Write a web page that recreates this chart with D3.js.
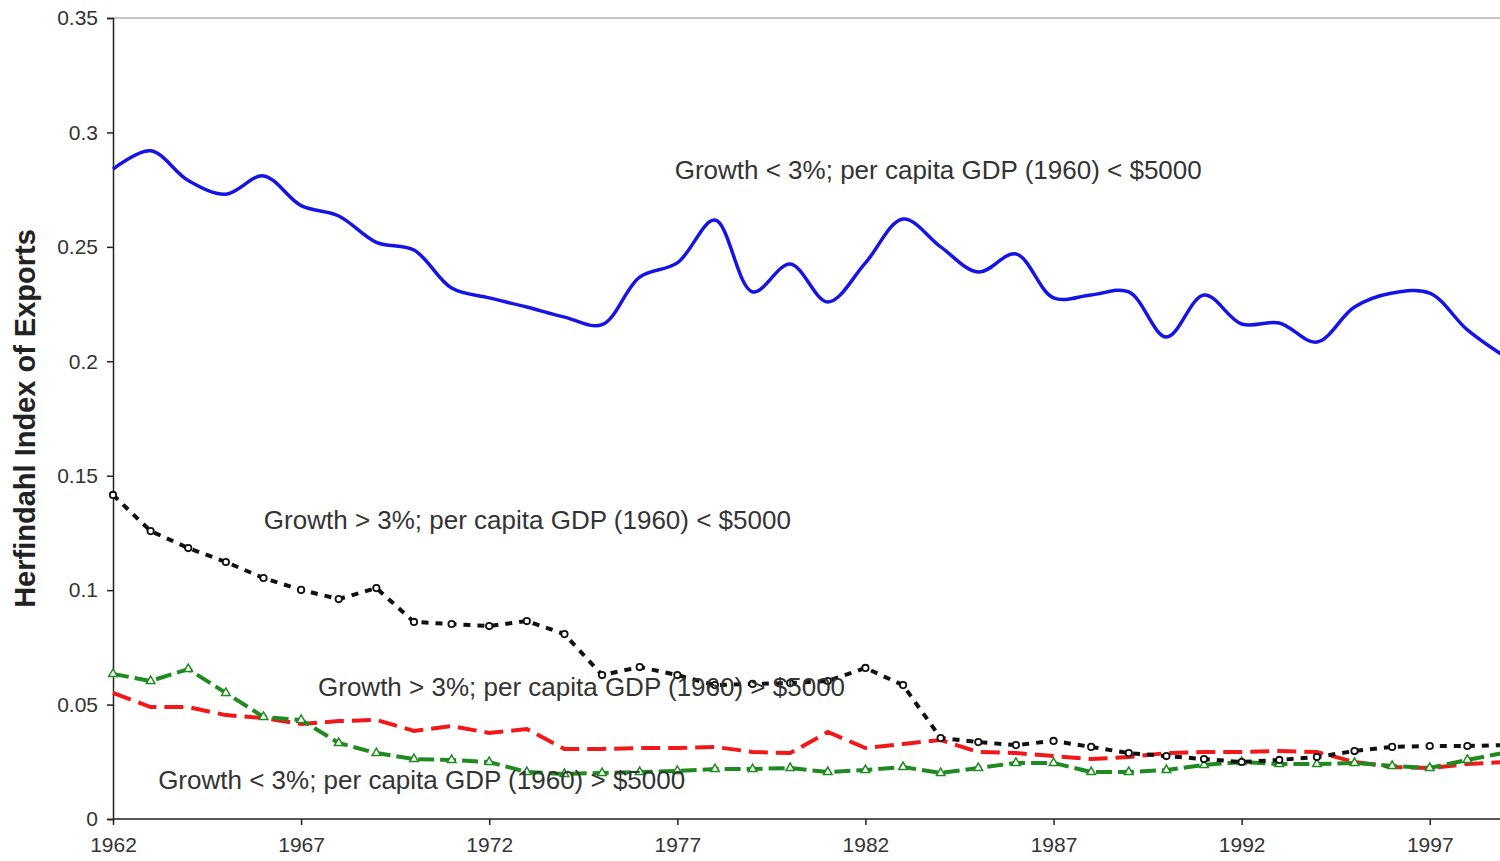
<!DOCTYPE html>
<html>
<head>
<meta charset="utf-8">
<script src="https://cdn.jsdelivr.net/npm/d3@7"></script>
<style>
  body { margin: 0; background: #fff; }
  svg { display: block; font-family: "Liberation Sans", Arial, sans-serif; }
</style>
</head>
<body>
<svg id="chart"></svg>
<script>
const years = d3.range(1962, 2000)

// Growth < 3%; per capita GDP (1960) < $5000
const lowGrowthPoor = [0.284, 0.292, 0.279, 0.273, 0.281, 0.268, 0.2635, 0.252, 0.2486, 0.232,
  0.2277, 0.2237, 0.2193, 0.216, 0.2368, 0.243, 0.2617, 0.2303, 0.2425, 0.2259,
  0.243, 0.2622, 0.25, 0.239, 0.2469, 0.2277, 0.229, 0.2303, 0.2106, 0.229,
  0.2163, 0.2167, 0.2084, 0.2237, 0.2298, 0.2298, 0.2137, 0.202]

// Growth > 3%; per capita GDP (1960) < $5000
const highGrowthPoor = [0.1416, 0.1258, 0.1184, 0.1123, 0.1053, 0.1001, 0.0961, 0.1009, 0.0861, 0.0852,
  0.0843, 0.0865, 0.0808, 0.0629, 0.0664, 0.0629, 0.0585, 0.059, 0.0594, 0.0603,
  0.066, 0.0585, 0.0354, 0.0336, 0.0323, 0.0341, 0.0315, 0.0288, 0.0275, 0.0262,
  0.0249, 0.0258, 0.0271, 0.0297, 0.0315, 0.0319, 0.0319, 0.0323]

// Growth > 3%; per capita GDP (1960) > $5000
const highGrowthRich = [0.0551, 0.0489, 0.0489, 0.0454, 0.0441, 0.0415, 0.0428, 0.0433, 0.0385, 0.0406,
  0.0376, 0.0393, 0.0306, 0.0306, 0.031, 0.031, 0.0315, 0.0293, 0.0288, 0.038,
  0.031, 0.0328, 0.0345, 0.0293, 0.0288, 0.0275, 0.0262, 0.0271, 0.0288, 0.0293,
  0.0293, 0.0297, 0.0293, 0.0249, 0.0227, 0.0223, 0.024, 0.0249]

// Growth < 3%; per capita GDP (1960) > $5000
const lowGrowthRich = [0.0634, 0.0603, 0.0655, 0.0551, 0.0446, 0.0433, 0.0332, 0.0288, 0.0262, 0.0258,
  0.0249, 0.0205, 0.0197, 0.0201, 0.0205, 0.021, 0.0218, 0.0218, 0.0223, 0.0205,
  0.0214, 0.0227, 0.0201, 0.0223, 0.0245, 0.0245, 0.0205, 0.0205, 0.0214, 0.0236,
  0.0249, 0.024, 0.024, 0.0245, 0.0232, 0.0223, 0.0258, 0.029]

const yTicks = [0, 0.05, 0.1, 0.15, 0.2, 0.25, 0.3, 0.35]
const xTicks = [1962, 1967, 1972, 1977, 1982, 1987, 1992, 1997]

const labels = [
  { text: 'Growth < 3%; per capita GDP (1960) < $5000', year: 1976.93, value: 0.2797 },
  { text: 'Growth > 3%; per capita GDP (1960) < $5000', year: 1966.01, value: 0.1267 },
  { text: 'Growth > 3%; per capita GDP (1960) > $5000', year: 1967.45, value: 0.0537 },
  { text: 'Growth < 3%; per capita GDP (1960) > $5000', year: 1963.2, value: 0.0131 }
]

const width = 1500
const height = 861

const svg = d3.select('#chart')
  .attr('width', width)
  .attr('height', height)

const x = d3.scaleLinear().domain([1962, 1999]).range([113, 1505])
const y = d3.scaleLinear().domain([0, 0.35]).range([819, 18])

// plot frame top line
svg.append('line')
  .attr('x1', x(1962)).attr('x2', width)
  .attr('y1', y(0.35)).attr('y2', y(0.35))
  .attr('stroke', '#888').attr('stroke-width', 1)

const yAxis = svg.append('g')
  .attr('transform', `translate(${x(1962)},0)`)
  .call(d3.axisLeft(y).tickValues(yTicks).tickFormat(d => d3.format('')(+d.toFixed(2))).tickSize(6).tickPadding(9))

const xAxis = svg.append('g')
  .attr('transform', `translate(0,${y(0)})`)
  .call(d3.axisBottom(x).tickValues(xTicks).tickFormat(d3.format('d')).tickSize(6).tickPadding(12))

xAxis.select('.domain').attr('d', `M${x(1962)},0H${width}`)

svg.selectAll('.domain, .tick line')
  .attr('stroke', '#222')
  .attr('stroke-width', 1.5)

svg.selectAll('.tick text')
  .attr('font-size', 21)
  .attr('fill', '#333')

svg.append('text')
  .attr('transform', `translate(35,${(y(0) + y(0.35)) / 2}) rotate(-90)`)
  .attr('text-anchor', 'middle')
  .attr('font-size', 29)
  .attr('font-weight', 'bold')
  .attr('fill', '#222')
  .text('Herfindahl Index of Exports')

const plot = svg.append('g')

function drawSeries(values, color, width, dash, curve) {
  const line = d3.line()
    .x((d, i) => x(years[i]))
    .y(d => y(d))
    .curve(curve)
  plot.append('path')
    .datum(values)
    .attr('d', line)
    .attr('fill', 'none')
    .attr('stroke', color)
    .attr('stroke-width', width)
    .attr('stroke-dasharray', dash)
}

drawSeries(lowGrowthPoor, '#1414e6', 3.5, null, d3.curveCatmullRom)
drawSeries(highGrowthRich, '#f01818', 4, '19,8', d3.curveLinear)
drawSeries(lowGrowthRich, '#1f8a1f', 4, '16,6', d3.curveLinear)
drawSeries(highGrowthPoor, '#111', 4, '7,7', d3.curveLinear)

// markers
plot.append('g').selectAll('path')
  .data(lowGrowthRich)
  .enter().append('path')
  .attr('d', d3.symbol().type(d3.symbolTriangle).size(32))
  .attr('transform', (d, i) => `translate(${x(years[i])},${y(d)})`)
  .attr('fill', '#fff')
  .attr('stroke', '#1f8a1f')
  .attr('stroke-width', 1.5)

plot.append('g').selectAll('circle')
  .data(highGrowthPoor)
  .enter().append('circle')
  .attr('cx', (d, i) => x(years[i]))
  .attr('cy', d => y(d))
  .attr('r', 3.2)
  .attr('fill', '#fff')
  .attr('stroke', '#111')
  .attr('stroke-width', 1.8)

svg.append('g').selectAll('text')
  .data(labels)
  .enter().append('text')
  .attr('x', d => x(d.year))
  .attr('y', d => y(d.value))
  .attr('font-size', 26)
  .attr('fill', '#333')
  .text(d => d.text)
</script>
</body>
</html>
